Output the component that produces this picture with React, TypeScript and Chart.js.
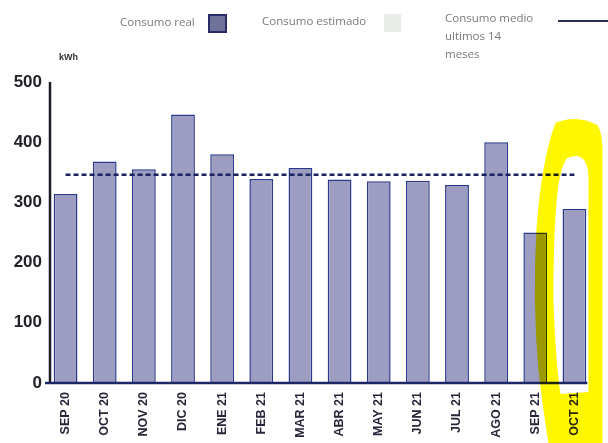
import React, { useEffect, useRef } from "react";
import { Chart, registerables } from "chart.js";

Chart.register(...registerables);

// Monthly electricity consumption (kWh)
const months = [
  "SEP 20", "OCT 20", "NOV 20", "DIC 20", "ENE 21", "FEB 21", "MAR 21",
  "ABR 21", "MAY 21", "JUN 21", "JUL 21", "AGO 21", "SEP 21", "OCT 21",
];
const consumoReal = [314, 368, 355, 446, 380, 339, 357, 338, 335, 336, 329, 400, 250, 289];
// Average of the last 14 months, drawn as a flat dashed line
const consumoMedio = [346, 346, 346, 346, 346, 346, 346, 346, 346, 346, 346, 346, 346, 346];
const yTicks = [0, 100, 200, 300, 400, 500];

const highlightIndex = months.length - 1;

// Axis lines: short vertical axis and a baseline that stops at the last bar
const axisLines = {
  id: "axisLines",
  afterDatasetsDraw(chart: any) {
    const { ctx, chartArea, scales } = chart;
    const meta = chart.getDatasetMeta(1);
    const last = meta.data[meta.data.length - 1];
    const right = last.x + last.width / 2 + 1;
    ctx.save();
    ctx.strokeStyle = "#1c1c24";
    ctx.lineWidth = 2.5;
    ctx.beginPath();
    ctx.moveTo(chartArea.left + 4, scales.y.getPixelForValue(yTicks[yTicks.length - 1]));
    ctx.lineTo(chartArea.left + 4, chartArea.bottom + 1);
    ctx.stroke();
    ctx.strokeStyle = "#1d2766";
    ctx.beginPath();
    ctx.moveTo(chartArea.left - 1, chartArea.bottom);
    ctx.lineTo(right, chartArea.bottom);
    ctx.stroke();
    ctx.restore();
  },
};

// Yellow marker loop around the latest month
const marker = {
  id: "marker",
  afterDraw(chart: any) {
    const { ctx, scales, height } = chart;
    const cx = scales.x.getPixelForValue(highlightIndex);
    const b = height;
    ctx.save();
    ctx.globalCompositeOperation = "multiply";
    ctx.fillStyle = "#fff700";
    ctx.beginPath();
    // outer edge
    ctx.moveTo(cx - 19, 123);
    ctx.quadraticCurveTo(cx + 2, 114, cx + 23, 125);
    ctx.quadraticCurveTo(cx + 29, 135, cx + 28, 160);
    ctx.lineTo(cx + 28, b);
    ctx.lineTo(cx - 26, b);
    ctx.quadraticCurveTo(cx - 32, 405, cx - 36, 370);
    ctx.quadraticCurveTo(cx - 42, 300, cx - 38, 230);
    ctx.quadraticCurveTo(cx - 33, 160, cx - 19, 123);
    ctx.closePath();
    // inner hole
    ctx.moveTo(cx - 7, 158);
    ctx.quadraticCurveTo(cx + 12, 150, cx + 14, 175);
    ctx.lineTo(cx + 14, 392);
    ctx.lineTo(cx - 14, 394);
    ctx.quadraticCurveTo(cx - 19, 360, cx - 21, 300);
    ctx.quadraticCurveTo(cx - 21, 220, cx - 16, 185);
    ctx.quadraticCurveTo(cx - 12, 162, cx - 7, 158);
    ctx.closePath();
    ctx.fill("evenodd");
    ctx.restore();
  },
};

const legendText: React.CSSProperties = {
  position: "absolute",
  fontFamily: "'Open Sans', sans-serif",
  fontSize: 11.5,
  color: "#7a7a7a",
  lineHeight: "18px",
  whiteSpace: "nowrap",
};

export default function App() {
  const ref = useRef<HTMLCanvasElement>(null);

  useEffect(() => {
    if (!ref.current) return;
    const chart = new Chart(ref.current, {
      type: "bar",
      data: {
        labels: months,
        datasets: [
          {
            type: "line",
            label: "Consumo medio ultimos 14 meses",
            data: consumoMedio,
            borderColor: "#1b2160",
            borderWidth: 2.5,
            borderDash: [5, 3],
            pointRadius: 0,
            fill: false,
            order: 0,
          },
          {
            type: "bar",
            label: "Consumo real",
            data: consumoReal,
            backgroundColor: "#9c9dc0",
            borderColor: "#2c3a8e",
            borderWidth: 1.5,
            barPercentage: 0.76,
            order: 1,
          },
        ],
      },
      options: {
        animation: false,
        responsive: false,
        layout: { padding: { top: 82, right: 14, left: 0, bottom: 0 } },
        plugins: { legend: { display: false }, tooltip: { enabled: false } },
        scales: {
          x: {
            grid: { display: false, drawTicks: false },
            border: { display: false },
            ticks: {
              minRotation: 90,
              maxRotation: 90,
              padding: 9,
              color: "#26263a",
              font: { family: "'Liberation Sans', Arial, sans-serif", size: 12.5, weight: "bold" },
            },
            afterFit(scale: any) {
              scale.height = 60;
            },
          },
          y: {
            min: 0,
            max: 500,
            grid: { display: false, drawTicks: false },
            border: { display: false },
            afterBuildTicks(scale: any) {
              scale.ticks = yTicks.map((v) => ({ value: v }));
            },
            ticks: {
              padding: 4,
              color: "#222228",
              font: { family: "'Liberation Sans', Arial, sans-serif", size: 17, weight: "bold" },
            },
            afterFit(scale: any) {
              scale.width = 46;
            },
          },
        },
      },
      plugins: [axisLines, marker],
    });
    return () => chart.destroy();
  }, []);

  return (
    <div style={{ position: "absolute", left: 0, top: 0, width: 608, height: 443, background: "#fff" }}>
      <canvas ref={ref} width={608} height={443} style={{ position: "absolute", left: 0, top: 0 }} />
      <div style={{ ...legendText, left: 120, top: 13 }}>Consumo real</div>
      <div
        style={{
          position: "absolute", left: 208, top: 14, width: 15, height: 15,
          background: "#70729a", border: "2px solid #272b66",
        }}
      />
      <div style={{ ...legendText, left: 262, top: 12 }}>Consumo estimado</div>
      <div style={{ position: "absolute", left: 384, top: 14, width: 17, height: 18, background: "#e8ece8" }} />
      <div style={{ ...legendText, left: 445, top: 9 }}>
        Consumo medio
        <br />
        ultimos 14
        <br />
        meses
      </div>
      <div style={{ position: "absolute", left: 558, top: 20, width: 50, height: 2, background: "#2a2f5a" }} />
      <div
        style={{
          position: "absolute", left: 59, top: 52, fontFamily: "'Liberation Sans', Arial, sans-serif",
          fontSize: 9, fontWeight: "bold", color: "#333",
        }}
      >
        kWh
      </div>
    </div>
  );
}
